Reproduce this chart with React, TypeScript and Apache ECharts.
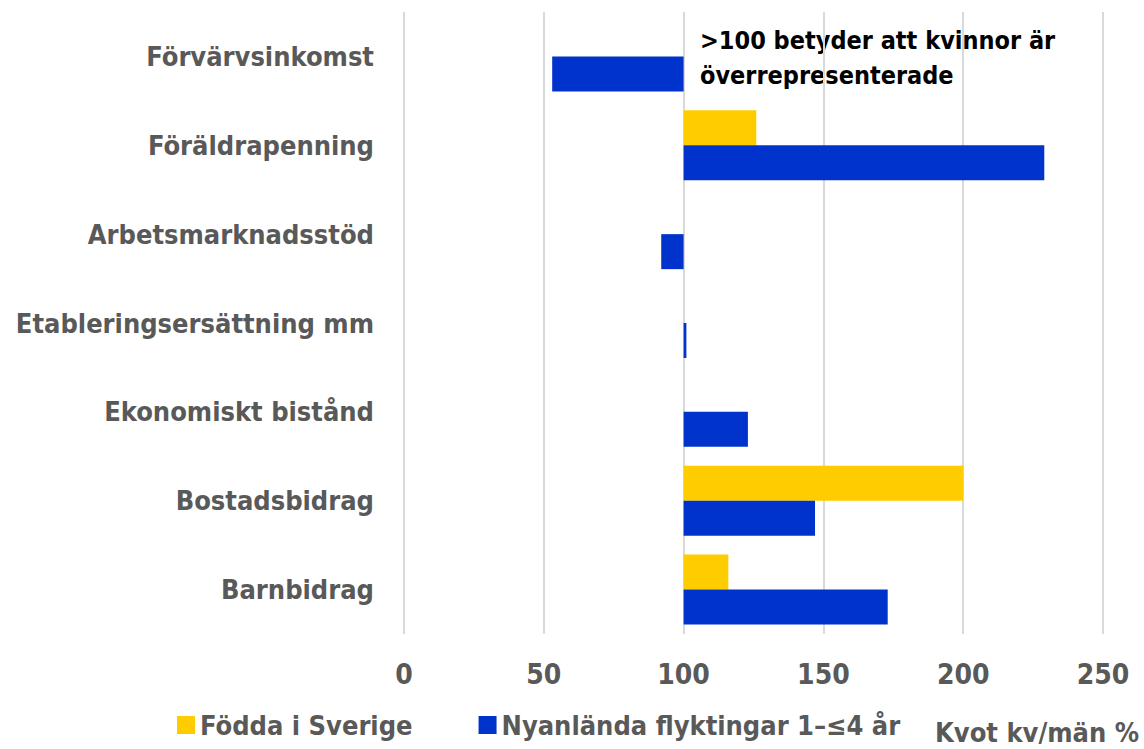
import React, { useEffect, useRef } from "react";
import * as echarts from "echarts";

const categories = [
  "Förvärvsinkomst",
  "Föräldrapenning",
  "Arbetsmarknadsstöd",
  "Etableringsersättning mm",
  "Ekonomiskt bistånd",
  "Bostadsbidrag",
  "Barnbidrag",
];
const seriesNames = ["Födda i Sverige", "Nyanlända flyktingar 1–≤4 år"];
const foddaISverige: (number | null)[] = [null, 126, null, null, null, 200, 116];
const nyanlanda: (number | null)[] = [53, 229, 92, 101, 123, 147, 173];
const xTicks = [0, 50, 100, 150, 200, 250];
const baseline = 100;
const annotation = ">100 betyder att kvinnor är\növerrepresenterade";
const axisName = "Kvot kv/män %";

const FONT = '"DejaVu Sans Condensed", "Liberation Sans Narrow", sans-serif';
const GRAY = "#595959";
const YELLOW = "#FFCC00";
const BLUE = "#0033CC";

const baseOf = (arr: (number | null)[]) => arr.map((v) => (v == null ? null : Math.min(v, baseline)));
const deltaOf = (arr: (number | null)[]) => arr.map((v) => (v == null ? null : Math.abs(v - baseline)));

export default function App() {
  const ref = useRef<HTMLDivElement>(null);
  useEffect(() => {
    if (!ref.current) return;
    const chart = echarts.init(ref.current, null, { renderer: "svg" });
    const option: any = {
      animation: false,
      textStyle: { fontFamily: FONT },
      grid: { left: 404, width: 699, top: 12, height: 622 },
      xAxis: {
        type: "value",
        min: xTicks[0],
        max: xTicks[xTicks.length - 1],
        interval: 50,
        axisLine: { show: false },
        axisTick: { show: false },
        splitLine: { lineStyle: { color: "#D9D9D9", width: 2 } },
        axisLabel: { color: GRAY, fontSize: 28, fontWeight: "bold", fontFamily: FONT, margin: 26 },
      },
      yAxis: {
        type: "category",
        data: categories,
        inverse: true,
        axisLine: { show: false },
        axisTick: { show: false },
        axisLabel: { color: GRAY, fontSize: 27, fontWeight: "bold", fontFamily: FONT, margin: 30 },
      },
      legend: {
        data: seriesNames,
        left: 177,
        top: 710,
        padding: 0,
        icon: "rect",
        itemWidth: 18,
        itemHeight: 18,
        itemGap: 66,
        textStyle: { color: GRAY, fontSize: 27, fontWeight: "bold", fontFamily: FONT, lineHeight: 30 },
      },
      graphic: [
        {
          type: "text",
          left: 700,
          top: 23,
          style: {
            text: annotation,
            fill: "#000",
            font: `bold 25px ${FONT}`,
            lineHeight: 35,
          },
        },
        {
          type: "text",
          left: 935,
          top: 719,
          style: {
            text: axisName,
            fill: GRAY,
            font: `bold 27px ${FONT}`,
          },
        },
      ],
      series: [
        {
          name: "baseY",
          type: "bar",
          stack: "y",
          data: baseOf(foddaISverige),
          itemStyle: { color: "transparent" },
          silent: true,
          barWidth: 35,
          barGap: "0%",
        },
        {
          name: seriesNames[0],
          type: "bar",
          stack: "y",
          data: deltaOf(foddaISverige),
          itemStyle: { color: YELLOW },
          barWidth: 35,
          barGap: "0%",
        },
        {
          name: "baseB",
          type: "bar",
          stack: "b",
          data: baseOf(nyanlanda),
          itemStyle: { color: "transparent" },
          silent: true,
          barWidth: 35,
          barGap: "0%",
        },
        {
          name: seriesNames[1],
          type: "bar",
          stack: "b",
          data: deltaOf(nyanlanda),
          itemStyle: { color: BLUE },
          barWidth: 35,
          barGap: "0%",
        },
      ],
    };
    chart.setOption(option);
    return () => chart.dispose();
  }, []);
  return <div ref={ref} style={{ width: 1144, height: 749, position: "absolute", left: 0, top: 0 }} />;
}
